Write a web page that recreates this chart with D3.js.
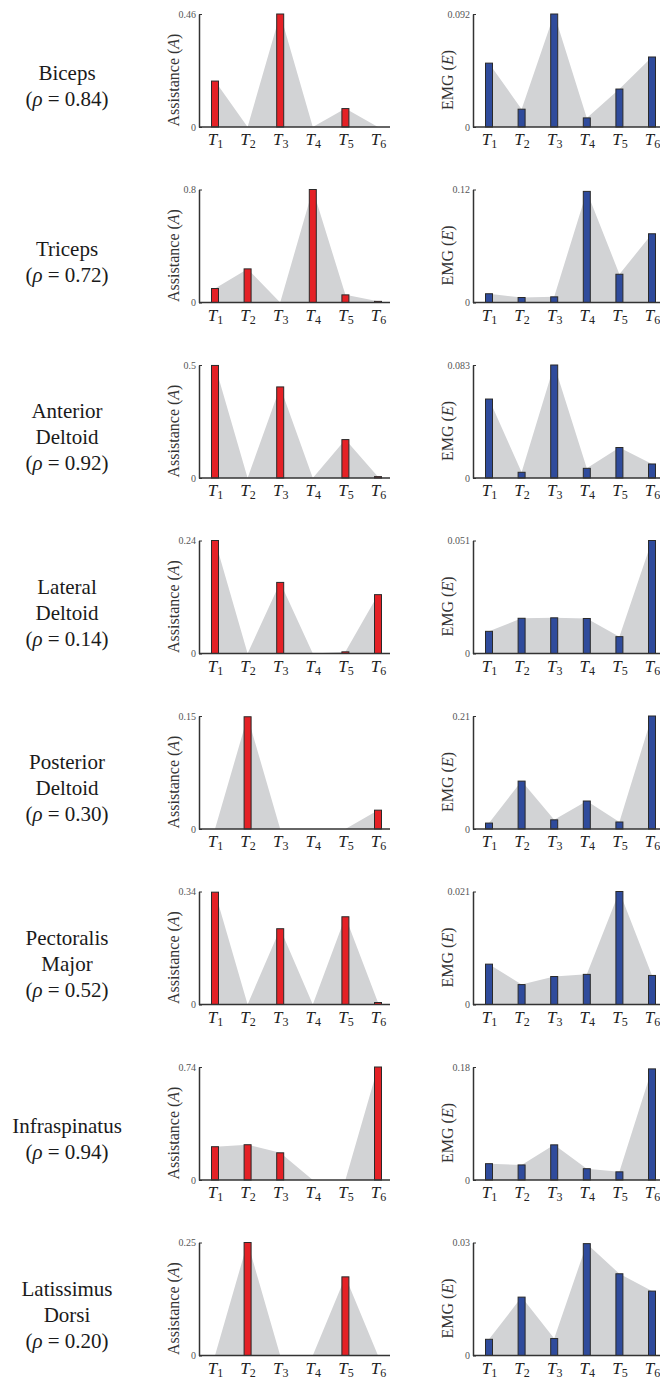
<!DOCTYPE html>
<html>
<head>
<meta charset="utf-8">
<script src="https://cdn.jsdelivr.net/npm/d3@7"></script>
<style>
  body { margin: 0; background: #fff; }
  svg text { font-family: "Liberation Serif", "DejaVu Serif", serif; }
</style>
</head>
<body>
<svg id="chart"></svg>
<script>
// muscle names (one entry per line) and correlation
const muscles = [
    ["Biceps"], ["Triceps"], ["Anterior", "Deltoid"], ["Lateral", "Deltoid"],
    ["Posterior", "Deltoid"], ["Pectoralis", "Major"], ["Infraspinatus"], ["Latissimus", "Dorsi"]
];
const rhos = ["0.84", "0.72", "0.92", "0.14", "0.30", "0.52", "0.94", "0.20"];
const trials = ["1", "2", "3", "4", "5", "6"];

// top tick of each panel
const assistMax = [0.46, 0.8, 0.5, 0.24, 0.15, 0.34, 0.74, 0.25];
const assistTicks = ["0.46", "0.8", "0.5", "0.24", "0.15", "0.34", "0.74", "0.25"];
const emgMax = [0.092, 0.12, 0.083, 0.051, 0.21, 0.021, 0.18, 0.03];
const emgTicks = ["0.092", "0.12", "0.083", "0.051", "0.21", "0.021", "0.18", "0.03"];

// assistance per trial T1..T6
const assistance = [
    [0.187, 0, 0.46, 0, 0.075, 0],
    [0.099, 0.238, 0, 0.8, 0.054, 0.008],
    [0.498, 0, 0.403, 0, 0.170, 0.006],
    [0.24, 0, 0.151, 0, 0.0035, 0.125],
    [0, 0.149, 0, 0, 0, 0.025],
    [0.338, 0, 0.228, 0, 0.264, 0.006],
    [0.218, 0.231, 0.178, 0, 0, 0.74],
    [0, 0.25, 0, 0, 0.174, 0]
];

// EMG per trial T1..T6
const emg = [
    [0.052, 0.0145, 0.092, 0.0074, 0.0309, 0.057],
    [0.0093, 0.0053, 0.006, 0.118, 0.030, 0.073],
    [0.058, 0.0042, 0.083, 0.0071, 0.0224, 0.0103],
    [0.010, 0.0159, 0.0161, 0.0158, 0.0076, 0.051],
    [0.011, 0.089, 0.017, 0.052, 0.013, 0.21],
    [0.0075, 0.0037, 0.0052, 0.0056, 0.021, 0.0054],
    [0.026, 0.024, 0.056, 0.018, 0.013, 0.177],
    [0.0043, 0.0155, 0.0045, 0.0297, 0.0217, 0.0171]
];

var wtot = 660, htot = 1378;
var firstBase = 127, rowPitch = 175.5, plotH = 113;
var step = 32.6, barW = 7, axisLen = 191;

const svg = d3.select("#chart")
    .attr("width", wtot)
    .attr("height", htot);

function drawPanel(values, max, tickLabel, x0, base, fill, yLabel) {
    const g = svg.append("g");

    const x = d3.scalePoint()
        .domain(trials)
        .range([x0 + 16, x0 + 16 + 5 * step]);

    const y = d3.scaleLinear()
        .domain([0, max])
        .range([base, base - plotH]);

    // gray area joining bar tops
    const area = d3.area()
        .x((d, i) => x(trials[i]))
        .y0(base)
        .y1(d => y(d));

    g.append("path")
        .datum(values)
        .attr("d", area)
        .attr("fill", "#d2d3d5");

    // bars
    g.selectAll("rect")
        .data(values)
        .join("rect")
        .attr("x", (d, i) => x(trials[i]) - barW / 2)
        .attr("width", barW)
        .attr("y", d => y(d))
        .attr("height", d => base - y(d))
        .attr("fill", fill)
        .attr("stroke", "#2a2a2a")
        .attr("stroke-width", 1);

    // y axis
    const yAxis = d3.axisLeft(y)
        .tickValues([0, max])
        .tickSizeInner(-3)
        .tickSizeOuter(0)
        .tickPadding(3)
        .tickFormat(d => d === 0 ? "0" : tickLabel);

    const ya = g.append("g")
        .attr("transform", `translate(${x0},0)`)
        .call(yAxis);
    ya.select(".domain").attr("stroke", "#333").attr("stroke-width", 1.5);
    ya.selectAll(".tick line").attr("stroke", "#333");
    ya.selectAll(".tick text")
        .attr("fill", "#555")
        .style("font-size", "10px")
        .style("font-family", "'Liberation Serif', serif");

    // x axis with T_i labels
    const xAxis = d3.axisBottom(x)
        .tickSize(0)
        .tickPadding(0)
        .tickFormat(() => "");

    const xa = g.append("g")
        .attr("transform", `translate(0,${base})`)
        .call(xAxis);
    xa.select(".domain").remove();
    xa.append("line")
        .attr("x1", x0)
        .attr("x2", x0 + axisLen)
        .attr("stroke", "#333")
        .attr("stroke-width", 1.5);

    const tl = xa.selectAll(".tick text")
        .attr("y", 18)
        .attr("dy", null)
        .attr("fill", "#222")
        .style("font-family", "'Liberation Serif', serif")
        .style("font-size", "17px");
    tl.append("tspan")
        .style("font-style", "italic")
        .text("T");
    tl.append("tspan")
        .attr("dy", 3)
        .style("font-size", "12px")
        .text(d => d);

    // y label
    const lab = g.append("text")
        .attr("transform", `translate(${x0 - 26},${base - 47}) rotate(-90)`)
        .attr("text-anchor", "middle")
        .attr("dy", "0.35em")
        .attr("fill", "#333")
        .style("font-size", "16px");
    lab.append("tspan").text(yLabel[0] + " (");
    lab.append("tspan").style("font-style", "italic").text(yLabel[1]);
    lab.append("tspan").text(")");
}

muscles.forEach((lines, r) => {
    const base = firstBase + r * rowPitch;

    // muscle name and rho on the left
    const all = lines.length + 1;
    const lineH = 26;
    const cy = base - 41 - (all - 1) * lineH / 2;
    const t = svg.append("text")
        .attr("text-anchor", "middle")
        .attr("fill", "#1a1a1a")
        .style("font-size", "21px");
    lines.forEach((s, i) => {
        t.append("tspan")
            .attr("x", 67)
            .attr("y", cy + i * lineH + 7)
            .text(s);
    });
    const rt = t.append("tspan")
        .attr("x", 67)
        .attr("y", cy + lines.length * lineH + 7);
    rt.text("(");
    t.append("tspan").style("font-style", "italic").text("ρ");
    t.append("tspan").text(" = " + rhos[r] + ")");

    drawPanel(assistance[r], assistMax[r], assistTicks[r], 199, base, "#e42126", ["Assistance", "A"]);
    drawPanel(emg[r], emgMax[r], emgTicks[r], 473, base, "#2f4b9c", ["EMG", "E"]);
});
</script>
</body>
</html>
